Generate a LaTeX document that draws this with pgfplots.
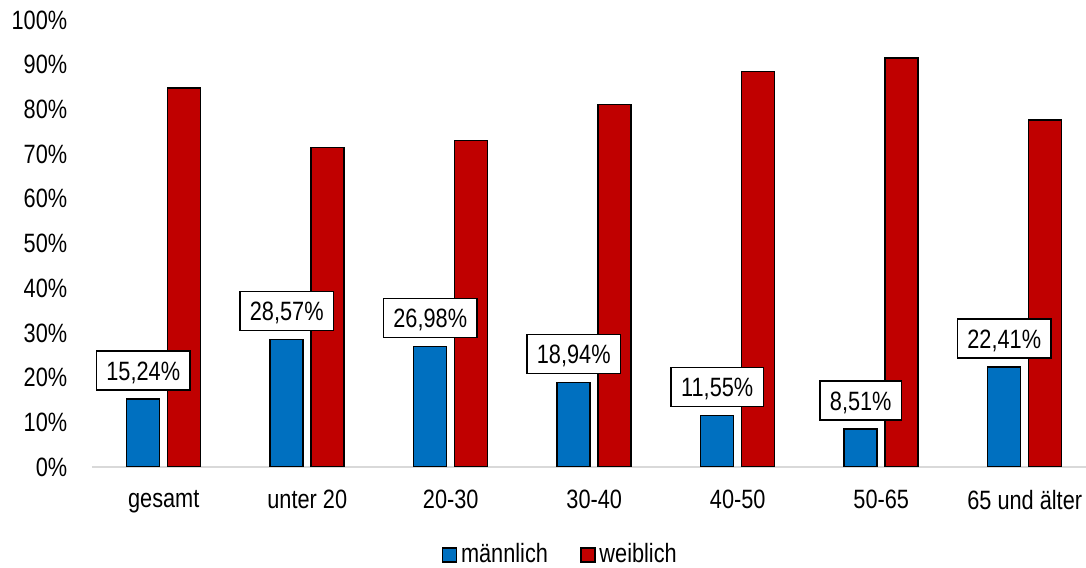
\documentclass[border=0pt]{standalone}
\usepackage{pgfplots}
\pgfplotsset{compat=1.18}
\usepackage{fontspec}
\setmainfont{Liberation Sans}[FakeStretch=0.82]
\definecolor{mblue}{HTML}{0070C0}
\definecolor{wred}{HTML}{C00000}
\definecolor{axgray}{HTML}{D9D9D9}
\begin{document}
\fontsize{13.25bp}{15bp}\selectfont
\begin{tikzpicture}
\begin{axis}[
  scale only axis, width=497bp, height=223.5bp,
  xmin=-0.5, xmax=6.427, ymin=0, ymax=100,
  ybar=4bp, bar width=16.5bp,
  axis x line*=bottom, axis y line*=left,
  x axis line style={draw=axgray, line width=1bp, -},
  y axis line style={draw=none},
  major tick length=0pt,
  xtick={0,1,2,3,4,5,6},
  xticklabels={gesamt, unter 20, 20-30, 30-40, 40-50, 50-65, 65 und älter},
  ytick={0,10,20,30,40,50,60,70,80,90,100},
  yticklabels={0\%,10\%,20\%,30\%,40\%,50\%,60\%,70\%,80\%,90\%,100\%},
  tick label style={font=\fontsize{13.25bp}{15bp}\selectfont, text=black},
  xticklabel style={yshift=-7bp},
  yticklabel style={xshift=-7.8bp},
  legend style={at={(0.472,0)}, anchor=center, yshift=-44bp, draw=none,
    font=\fontsize{13.25bp}{15bp}\selectfont,
    legend columns=2,
    /tikz/every even column/.append style={column sep=14bp}},
]
\addplot[fill=mblue, draw=black, line width=0.75bp,
  legend image code/.code={\draw[fill=mblue,draw=black,line width=0.75bp] (0bp,-3.5bp) rectangle (7bp,3.5bp);},
  point meta=explicit symbolic,
  nodes near coords,
  nodes near coords style={draw=black, fill=white, line width=0.75bp,
    inner xsep=5bp, inner ysep=5bp, text height=9.5bp, text depth=0pt,
    anchor=south, yshift=4bp, font=\fontsize{13.25bp}{15bp}\selectfont, text=black}]
  coordinates {
  (0,15.24) [15,24\%]
  (1,28.57) [28,57\%]
  (2,26.98) [26,98\%]
  (3,18.94) [18,94\%]
  (4,11.55) [11,55\%]
  (5,8.51) [8,51\%]
  (6,22.41) [22,41\%]
};
\addlegendentry{männlich}
\addplot[fill=wred, draw=black, line width=0.75bp,
  legend image code/.code={\draw[fill=wred,draw=black,line width=0.75bp] (0bp,-3.5bp) rectangle (7bp,3.5bp);}]
  coordinates {
  (0,84.76)
  (1,71.43)
  (2,73.02)
  (3,81.06)
  (4,88.45)
  (5,91.49)
  (6,77.59)
};
\addlegendentry{weiblich}
\end{axis}
\pgfresetboundingbox
\path ([xshift=-46bp,yshift=-50.5bp]current axis.south west) rectangle ([yshift=10bp]current axis.north east);
\end{tikzpicture}
\end{document}
